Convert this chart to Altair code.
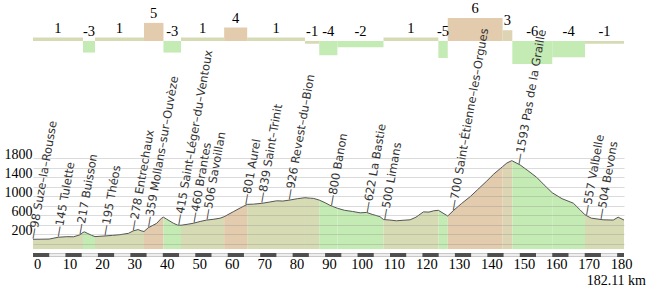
import altair as alt
import pandas as pd
import numpy as np

# ---------------- data ----------------
total_km = 182.11

# gradient segments (km) and average gradient (%)
seg_start = [0, 15.4, 19.1, 34.2, 40.2, 45.6, 58.9, 66.0, 83.8, 88.2, 93.8, 108.0,
             124.9, 127.8, 144.7, 147.7, 160.0, 170.1]
seg_end = seg_start[1:] + [total_km]
grad_value = [0.9, -3.0, 0.9, 4.7, -3.0, 0.9, 3.5, 0.9, -0.7, -3.7, -1.6, 0.9,
              -4.4, 6.0, 2.8, -6.0, -4.2, -0.7]
grad_label = ["1", "-3", "1", "5", "-3", "1", "4", "1", "-1", "-4", "-2", "1",
              "-5", "6", "3", "-6", "-4", "-1"]

# elevation profile
prof_km = [0, 2.5, 5.0, 7.8, 10.4, 12.5, 14.5, 15.4, 15.9, 16.7, 18.0, 19.1, 22.2, 24.5,
           26.8, 29.4, 30.9, 32.4, 33.3, 34.2, 35.5, 38.1, 39.6, 40.2, 41.2, 43.2, 44.5,
           45.6, 47.5, 49.4, 51.5, 53.5, 55.5, 57.6, 58.9, 61.7, 64.0, 66.0, 68.0, 70.5,
           73.0, 75.1, 77.0, 79.2, 81.5, 83.8, 85.5, 86.5, 88.2, 90.0, 91.5, 93.8, 96.0,
           98.5, 100.8, 102.8, 104.5, 106.9, 108.0, 110.0, 112.0, 114.0, 116.2, 118.0,
           120.3, 122.0, 123.5, 124.9, 127.8, 129.5, 132.0, 134.7, 137.0, 139.8, 142.0,
           144.7, 146.0, 147.5, 147.7, 150.1, 152.5, 155.2, 157.5, 160.0, 163.0, 166.5,
           168.5, 170.1, 172.0, 175.7, 178.8, 180.3, 182.11]
prof_elev = [95, 97, 100, 138, 150, 148, 190, 240, 250, 222, 180, 152, 165, 178,
             192, 220, 272, 300, 275, 258, 338, 430, 540, 560, 518, 435, 395,
             390, 410, 432, 470, 500, 515, 538, 570, 675, 760, 830, 835, 852,
             880, 905, 900, 922, 950, 970, 960, 955, 920, 865, 810, 748, 705,
             680, 652, 660, 620, 572, 510, 500, 484, 495, 505, 560,
             672, 668, 695, 705, 585, 697, 845, 992, 1140, 1320, 1470,
             1625, 1700, 1750, 1745, 1660, 1540, 1400, 1240, 1075, 950, 855,
             720, 610, 540, 505, 500, 560, 500]

# towns
town_name = ["Suze-la-Rousse", "Tulette", "Buisson", "Théos", "Entrechaux",
             "Mollans-sur-Ouvèze", "Saint-Léger-du-Ventoux", "Brantes", "Savoillan",
             "Aurel", "Saint-Trinit", "Revest-du-Bion", "Banon", "La Bastie", "Limans",
             "Saint-Étienne-les-Orgues", "Pas de la Graille", "Valbelle", "Bevons"]
town_elev = [98, 145, 217, 195, 278, 359, 415, 460, 506, 801, 839, 926, 800, 622, 500,
             700, 1593, 557, 504]
town_km = [0, 7.8, 14.5, 22.2, 30.9, 35.6, 44.9, 49.6, 53.6, 65.6, 70.5, 79.0, 92.0,
           103.0, 108.4, 129.5, 149.8, 170.6, 175.0]

axis_km = list(range(0, 181, 10))
grid_elev = list(range(0, 1801, 200))

# ---------------- tables ----------------
seg_df = pd.DataFrame({"start": seg_start, "end": seg_end, "grad": grad_value,
                       "label": grad_label})
seg_df["mid"] = (seg_df["start"] + seg_df["end"]) / 2
seg_df["lab_y"] = seg_df["grad"].clip(lower=0)

rows = []
for i, (s, e, g) in enumerate(zip(seg_start, seg_end, grad_value)):
    for k, v in zip(prof_km, prof_elev):
        if s - 1e-9 <= k <= e + 1e-9:
            rows.append({"seg": i, "km": k, "elev": v, "grad": g})
area_df = pd.DataFrame(rows)
line_df = pd.DataFrame({"km": prof_km, "elev": prof_elev})

town_df = pd.DataFrame({"km": town_km, "elev": town_elev, "name": town_name})
town_df["anchor"] = np.interp(town_df["km"], prof_km, prof_elev)
town_df["text"] = ["\u2014" + f"{e} " + n.replace("-", "\u2013")
                   for e, n in zip(town_elev, town_name)]

strip_start = list(np.arange(0, total_km, 10.0))
strip_df = pd.DataFrame({"start": strip_start,
                         "end": [min(s + 5, total_km) for s in strip_start]})
full_df = pd.DataFrame({"start": [0], "end": [total_km]})
km_df = pd.DataFrame({"km": [total_km], "label": [f"{total_km} km"]})

# ---------------- scales ----------------
SERIF = "'Liberation Serif', 'Times New Roman', serif"
H = 249
EMIN, EMAX = -109.5, 5132.6
x_scale = alt.Scale(domain=[0, total_km], nice=False, zero=False)
elev_scale = alt.Scale(domain=[EMIN, EMAX], nice=False, zero=False)
grad_scale = alt.Scale(domain=[-54.03, 10.65], nice=False, zero=False)
color_scale = alt.Scale(type="threshold", domain=[-1.5, 1.5, 3.5],
                        range=["#c4ebb4", "#d6dbb4", "#dcd4b2", "#e3cbae"])

x_axis = alt.Axis(values=axis_km, title=None, labelFont=SERIF, labelFontSize=14.5,
                  labelColor="#000", ticks=False, domain=False, grid=False,
                  labelPadding=15.5, labelBaseline="middle", labelOffset=4,
                  labelFlush=False, labelOverlap=False)


def X(field):
    return alt.X(field, type="quantitative", scale=x_scale, axis=x_axis)


area = alt.Chart(area_df).mark_area(interpolate="linear").encode(
    x=X("km"),
    y=alt.Y("elev:Q", scale=elev_scale, stack=None,
            axis=alt.Axis(values=grid_elev, title=None, grid=True, gridColor="#888",
                          gridOpacity=0.3, ticks=False, domain=False, format="d",
                          labelExpr="datum.value % 400 == 200 ? datum.label : ''",
                          labelFont=SERIF, labelFontSize=14, labelColor="#000",
                          labelBaseline="alphabetic", labelPadding=1,
                          labelOverlap=False, zindex=1)),
    y2=alt.datum(EMIN),
    color=alt.Color("grad:Q", scale=color_scale, legend=None),
    detail="seg:N",
)

line = alt.Chart(line_df).mark_line(color="#555", strokeWidth=1).encode(
    x=X("km"),
    y=alt.Y("elev:Q", scale=elev_scale, axis=None),
)

bars = alt.Chart(seg_df).mark_rect().encode(
    x=X("start"),
    x2="end:Q",
    y=alt.Y("grad:Q", scale=grad_scale, axis=None),
    y2=alt.datum(0),
    color=alt.Color("grad:Q", scale=color_scale, legend=None),
)

bar_text = alt.Chart(seg_df).mark_text(
    baseline="middle", dy=-9, font=SERIF, fontSize=14.5, color="#000").encode(
    x=X("mid"),
    y=alt.Y("lab_y:Q", scale=grad_scale, axis=None),
    text="label:N",
)

towns = alt.Chart(town_df).mark_text(
    angle=280, align="left", baseline="middle", font="DejaVu Sans", fontSize=11.5,
    color="#333").encode(
    x=X("km"),
    y=alt.Y("anchor:Q", scale=elev_scale, axis=None),
    text="text:N",
)

strip_bg = alt.Chart(full_df).mark_rect(color="#c8c8c8").encode(
    x=X("start"), x2="end:Q",
    y=alt.value(H + 4), y2=alt.value(H + 8))
strip_light = alt.Chart(full_df).mark_rect(color="#eeeeee").encode(
    x=X("start"), x2="end:Q",
    y=alt.value(H + 5), y2=alt.value(H + 7))
strip_dark = alt.Chart(strip_df).mark_rect(color="#505050").encode(
    x=X("start"), x2="end:Q",
    y=alt.value(H + 4), y2=alt.value(H + 8))

km_label = alt.Chart(km_df).mark_text(
    align="right", baseline="middle", dx=22, font=SERIF, fontSize=14,
    color="#000").encode(
    x=X("km"),
    y=alt.value(H + 32),
    text="label:N",
)

chart = alt.layer(
    area, line, bars, bar_text, towns, strip_bg, strip_light, strip_dark, km_label
).resolve_scale(y="independent").properties(
    width=591, height=H,
    autosize=alt.AutoSizeParams(type="none"),
    padding={"left": 33, "right": 26, "top": 0, "bottom": 288 - H},
    background="white",
).configure_view(stroke=None)

chart.save("out.html", embed_options={"renderer": "svg", "actions": False})
